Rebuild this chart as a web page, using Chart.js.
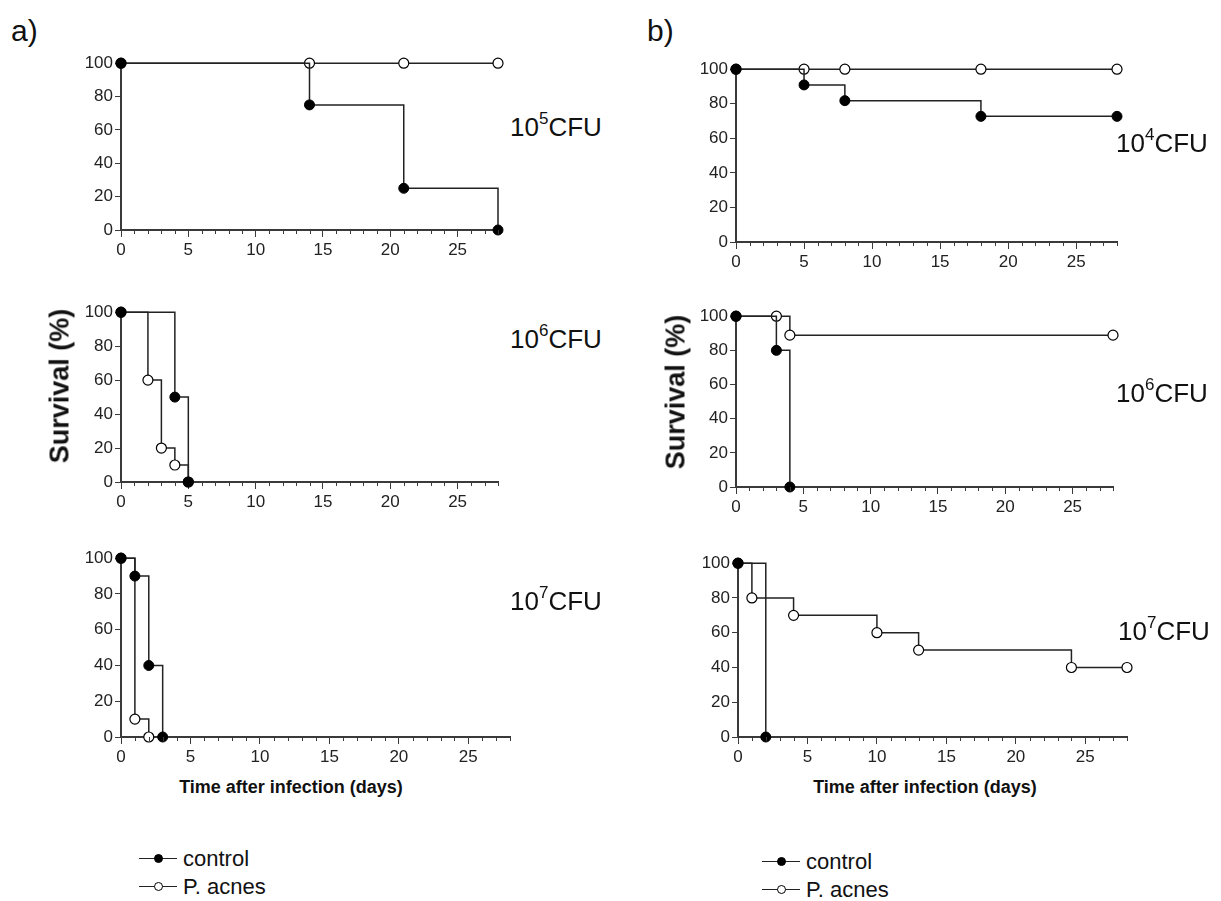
<!DOCTYPE html>
<html>
<head>
<meta charset="utf-8">
<script src="https://cdn.jsdelivr.net/npm/chart.js@4/dist/chart.umd.min.js"></script>
<style>
  html, body { margin: 0; padding: 0; background: #fff; }
  body { width: 1221px; height: 901px; position: relative; overflow: hidden;
         font-family: "Liberation Sans", Arial, sans-serif; color: #111; }
  canvas { position: absolute; }
  .txt { position: absolute; white-space: nowrap; line-height: 1; }
  .panel { font-size: 30px; }
  .cfu { font-size: 26px; }
  .cfu sup { font-size: 17px; position: relative; top: -2px; }
  .ytitle { font-size: 27px; font-weight: bold; transform: translate(-50%, -50%) rotate(-90deg); }
  .xtitle { font-size: 18px; font-weight: bold; transform: translateX(-50%); }
  .leg { font-size: 22px; }
  .leg .row { display: flex; align-items: center; height: 28px; }
  .leg .sym { position: relative; width: 38px; height: 28px; margin-right: 6px; }
  .leg .sym::before { content: ""; position: absolute; left: 0; right: 0; top: 13px; border-top: 1.5px solid #222; }
  .leg .dot { position: absolute; left: 15px; top: 9px; width: 7px; height: 7px; border: 1px solid #000; border-radius: 50%; }
</style>
</head>
<body>

<div class="txt panel" style="left:11px; top:16px;">a)</div>
<div class="txt panel" style="left:647px; top:16px;">b)</div>

<canvas id="a1"></canvas>
<canvas id="a2"></canvas>
<canvas id="a3"></canvas>
<canvas id="b1"></canvas>
<canvas id="b2"></canvas>
<canvas id="b3"></canvas>

<div class="txt cfu" style="left:510px; top:112px;">10<sup>5</sup>CFU</div>
<div class="txt cfu" style="left:510px; top:324px;">10<sup>6</sup>CFU</div>
<div class="txt cfu" style="left:510px; top:586px;">10<sup>7</sup>CFU</div>
<div class="txt cfu" style="left:1116px; top:128px;">10<sup>4</sup>CFU</div>
<div class="txt cfu" style="left:1116px; top:378px;">10<sup>6</sup>CFU</div>
<div class="txt cfu" style="left:1118px; top:616px;">10<sup>7</sup>CFU</div>

<div class="txt ytitle" style="left:60px; top:386px;">Survival (%)</div>
<div class="txt ytitle" style="left:676px; top:392px;">Survival (%)</div>

<div class="txt xtitle" style="left:291px; top:778px;">Time after infection (days)</div>
<div class="txt xtitle" style="left:925px; top:778px;">Time after infection (days)</div>

<div class="txt leg" style="left:139px; top:845px;">
  <div class="row"><div class="sym"><div class="dot" style="background:#000"></div></div>control</div>
  <div class="row"><div class="sym"><div class="dot" style="background:#fff"></div></div>P. acnes</div>
</div>
<div class="txt leg" style="left:762px; top:848px;">
  <div class="row"><div class="sym"><div class="dot" style="background:#000"></div></div>control</div>
  <div class="row"><div class="sym"><div class="dot" style="background:#fff"></div></div>P. acnes</div>
</div>

<script>
// ---- data : days after infection / survival (%) ----
// a) 10^5 CFU
const a1CtrlDays = [0, 14, 21, 28];
const a1CtrlSurv = [100, 75, 25, 0];
const a1AcnesDays = [0, 14, 21, 28];
const a1AcnesSurv = [100, 100, 100, 100];
// a) 10^6 CFU
const a2CtrlDays = [0, 4, 5];
const a2CtrlSurv = [100, 50, 0];
const a2AcnesDays = [0, 2, 3, 4, 5];
const a2AcnesSurv = [100, 60, 20, 10, 0];
// a) 10^7 CFU
const a3CtrlDays = [0, 1, 2, 3];
const a3CtrlSurv = [100, 90, 40, 0];
const a3AcnesDays = [0, 1, 2];
const a3AcnesSurv = [100, 10, 0];
// b) 10^4 CFU
const b1CtrlDays = [0, 5, 8, 18, 28];
const b1CtrlSurv = [100, 90.9, 81.8, 72.7, 72.7];
const b1AcnesDays = [0, 5, 8, 18, 28];
const b1AcnesSurv = [100, 100, 100, 100, 100];
// b) 10^6 CFU
const b2CtrlDays = [0, 3, 4];
const b2CtrlSurv = [100, 80, 0];
const b2AcnesDays = [0, 3, 4, 28];
const b2AcnesSurv = [100, 100, 88.9, 88.9];
// b) 10^7 CFU
const b3CtrlDays = [0, 2];
const b3CtrlSurv = [100, 0];
const b3AcnesDays = [0, 1, 4, 10, 13, 24, 28];
const b3AcnesSurv = [100, 80, 70, 60, 50, 40, 40];

const yTicks = [0, 20, 40, 60, 80, 100];
const xMax = 28;

// chart areas (left, top, right, bottom) in page pixels
const boxes = {
    a1: [121, 61, 498, 230],
    a2: [121, 310, 498, 482],
    a3: [121, 556, 510, 737],
    b1: [736, 67, 1117, 242],
    b2: [736, 314, 1113, 487],
    b3: [738, 561, 1127, 737]
};

const FONT = '"Liberation Sans", Arial, sans-serif';
const INK = '#222';
const AXIS = '#3a3a3a';
const Y_W = 50, X_H = 30, PAD_T = 10, PAD_R = 12;

const pts = (days, surv) => days.map((d, i) => ({ x: d, y: surv[i] }));

// petits ticks mineurs (1 jour) sur l'axe x
const minorTicks = {
    id: 'minorTicks',
    afterDraw(chart) {
        const sx = chart.scales.x, c = chart.ctx;
        c.save();
        c.strokeStyle = AXIS;
        c.lineWidth = 1;
        for (let v = 0; v <= xMax; v++) {
            if (v % 5 === 0) continue;
            const px = Math.round(sx.getPixelForValue(v)) + 0.5;
            c.beginPath();
            c.moveTo(px, sx.top);
            c.lineTo(px, sx.top + 4);
            c.stroke();
        }
        c.restore();
    }
};

function drawPanel(id, ctrlDays, ctrlSurv, acnesDays, acnesSurv) {
    const [L, T, R, B] = boxes[id];
    const cv = document.getElementById(id);
    cv.width = Y_W + (R - L) + PAD_R;
    cv.height = PAD_T + (B - T) + X_H;
    cv.style.left = (L - Y_W) + 'px';
    cv.style.top = (T - PAD_T) + 'px';

    new Chart(cv.getContext('2d'), {
        type: 'line',
        data: {
            datasets: [
                {
                    label: 'control',
                    data: pts(ctrlDays, ctrlSurv),
                    stepped: 'before',
                    borderColor: INK,
                    borderWidth: 1.5,
                    pointRadius: 5,
                    pointBackgroundColor: '#000',
                    pointBorderColor: '#000',
                    pointBorderWidth: 1,
                    clip: false
                },
                {
                    label: 'P. acnes',
                    data: pts(acnesDays, acnesSurv),
                    stepped: 'before',
                    borderColor: INK,
                    borderWidth: 1.5,
                    pointRadius: 5,
                    pointBackgroundColor: '#fff',
                    pointBorderColor: '#000',
                    pointBorderWidth: 1.2,
                    clip: false
                }
            ]
        },
        options: {
            responsive: false,
            animation: false,
            events: [],
            layout: { padding: { left: 0, top: PAD_T, right: PAD_R, bottom: 0 } },
            plugins: { legend: { display: false }, tooltip: { enabled: false } },
            scales: {
                x: {
                    type: 'linear', min: 0, max: xMax,
                    afterFit: s => { s.height = X_H; },
                    border: { color: AXIS, width: 2 },
                    grid: {
                        drawOnChartArea: false, tickLength: 7,
                        tickColor: ctx => (ctx.tick && ctx.tick.value % 5 === 0) ? AXIS : 'rgba(0,0,0,0)'
                    },
                    ticks: {
                        stepSize: 1, autoSkip: false, maxRotation: 0, padding: 3,
                        color: INK, font: { family: FONT, size: 17 },
                        callback: v => v % 5 === 0 ? v : ''
                    }
                },
                y: {
                    min: 0, max: 100,
                    afterFit: s => { s.width = Y_W; },
                    afterBuildTicks: s => { s.ticks = yTicks.map(v => ({ value: v })); },
                    border: { color: AXIS, width: 2 },
                    grid: { drawOnChartArea: false, tickLength: 6, tickColor: AXIS },
                    ticks: { padding: 2, color: INK, font: { family: FONT, size: 17 } }
                }
            }
        },
        plugins: [minorTicks]
    });
}

drawPanel('a1', a1CtrlDays, a1CtrlSurv, a1AcnesDays, a1AcnesSurv);
drawPanel('a2', a2CtrlDays, a2CtrlSurv, a2AcnesDays, a2AcnesSurv);
drawPanel('a3', a3CtrlDays, a3CtrlSurv, a3AcnesDays, a3AcnesSurv);
drawPanel('b1', b1CtrlDays, b1CtrlSurv, b1AcnesDays, b1AcnesSurv);
drawPanel('b2', b2CtrlDays, b2CtrlSurv, b2AcnesDays, b2AcnesSurv);
drawPanel('b3', b3CtrlDays, b3CtrlSurv, b3AcnesDays, b3AcnesSurv);
</script>
</body>
</html>
